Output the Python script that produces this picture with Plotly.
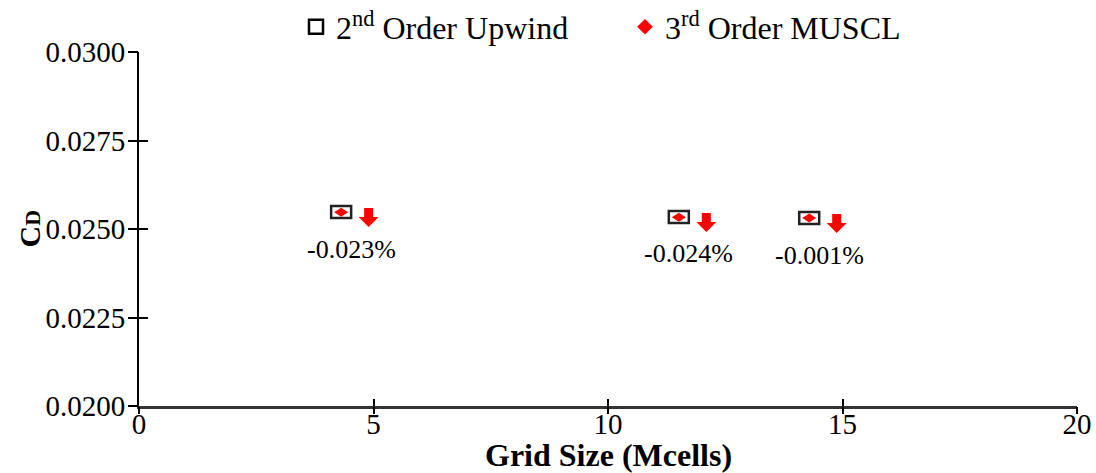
import plotly.graph_objects as go

# Drag coefficient vs grid resolution for two convection schemes
grid_size = [4.31, 11.51, 14.29]          # Mcells
cd_upwind = [0.02548, 0.02534, 0.02531]   # 2nd order upwind
pct_change = [-0.023, -0.024, -0.001]     # MUSCL relative to upwind, %
cd_muscl = [c * (1 + p / 100) for c, p in zip(cd_upwind, pct_change)]

x_ticks = [0, 5, 10, 15, 20]
y_ticks = [0.0200, 0.0225, 0.0250, 0.0275, 0.0300]

FONT = "Liberation Serif"
RED = "#ff0000"

fig = go.Figure()

# legend entries (markers themselves are drawn as pixel-sized shapes below)
fig.add_trace(go.Scatter(
    x=[None], y=[None], mode="markers", name="2<sup>nd</sup> Order Upwind",
    marker=dict(symbol="square-open", size=14, color="black", line=dict(width=2.5, color="black")),
))
fig.add_trace(go.Scatter(
    x=[None], y=[None], mode="markers", name="3<sup>rd</sup> Order MUSCL",
    marker=dict(symbol="diamond", size=12, color=RED),
))

shapes = []
annotations = []
for gx, cu, cm, p in zip(grid_size, cd_upwind, cd_muscl, pct_change):
    # upwind: open rectangle
    shapes.append(dict(
        type="rect", xref="x", yref="y", xsizemode="pixel", ysizemode="pixel",
        xanchor=gx, yanchor=cu, x0=-10, x1=10, y0=-6, y1=6,
        line=dict(color="#222222", width=2.5), fillcolor="rgba(0,0,0,0)",
    ))
    # MUSCL: filled diamond
    shapes.append(dict(
        type="path", xref="x", yref="y", xsizemode="pixel", ysizemode="pixel",
        xanchor=gx, yanchor=cm,
        path="M -7 0 L 0 4.5 L 7 0 L 0 -4.5 Z",
        line=dict(color=RED, width=0), fillcolor=RED,
    ))
    # down arrow marking the decrease
    shapes.append(dict(
        type="path", xref="x", yref="y", xsizemode="pixel", ysizemode="pixel",
        xanchor=gx, yanchor=cu,
        path="M 23 4 L 32 4 L 32 -5 L 37.5 -5 L 27.5 -15 L 17.5 -5 L 23 -5 Z",
        line=dict(color=RED, width=0), fillcolor=RED,
    ))
    annotations.append(dict(
        x=gx, y=cu, xref="x", yref="y", text=f"{p:.3f}%", showarrow=False,
        xshift=10, yshift=-37, font=dict(family=FONT, size=26, color="black"),
    ))

# axis titles
annotations.append(dict(
    x=0.5, y=0, xref="paper", yref="paper", xanchor="center", yanchor="top",
    yshift=-29, showarrow=False, text="<b>Grid Size (Mcells)</b>",
    font=dict(family=FONT, size=32, color="black"),
))
annotations.append(dict(
    x=0, y=0.5, xref="paper", yref="paper", xanchor="right", yanchor="middle",
    xshift=-92, showarrow=False, textangle=-90,
    text="<b>C<span style='font-size:22px'>D</span></b>",
    font=dict(family=FONT, size=30, color="black"),
))

axis_common = dict(showgrid=False, zeroline=False, tickcolor="black", tickwidth=2,
                   automargin=False)

fig.update_layout(
    width=1096, height=473,
    margin=dict(l=139, r=19, t=52, b=67, autoexpand=False),
    paper_bgcolor="white", plot_bgcolor="white",
    font=dict(family=FONT, size=29, color="black"),
    showlegend=True,
    legend=dict(orientation="h", x=296 / 1096, xanchor="left", xref="container",
                y=1 - 27 / 473, yanchor="middle", yref="container",
                font=dict(family=FONT, size=32), itemwidth=30, entrywidth=284,
                tracegroupgap=0, bgcolor="rgba(0,0,0,0)"),
    # label-carrying axes hold the inward half of each tick
    xaxis=dict(range=[0, 20], tickvals=x_ticks, ticktext=[str(v) for v in x_ticks],
               ticks="inside", ticklen=7, showline=True, linewidth=3, linecolor="#333333",
               tickfont=dict(size=29), ticklabelstandoff=-10, **axis_common),
    yaxis=dict(range=[0.0200, 0.0300], tickvals=y_ticks, tickformat=".4f",
               ticks="inside", ticklen=9, showline=True, linewidth=2, linecolor="black",
               tickfont=dict(size=29), ticklabelstandoff=6, **axis_common),
    # overlay axes hold the outward half, so the ticks cross the axis lines
    xaxis2=dict(range=[0, 20], tickvals=x_ticks, overlaying="x", anchor="y",
                side="bottom", ticks="outside", ticklen=7, showticklabels=False,
                showline=False, **axis_common),
    yaxis2=dict(range=[0.0200, 0.0300], tickvals=y_ticks, overlaying="y", anchor="x",
                side="left", ticks="outside", ticklen=10, showticklabels=False,
                showline=False, **axis_common),
    shapes=shapes,
    annotations=annotations,
)

# dummy trace to activate the overlay axes
fig.add_trace(go.Scatter(x=[None], y=[None], xaxis="x2", yaxis="y2",
                         showlegend=False, hoverinfo="skip"))

fig.write_html("out.html")
